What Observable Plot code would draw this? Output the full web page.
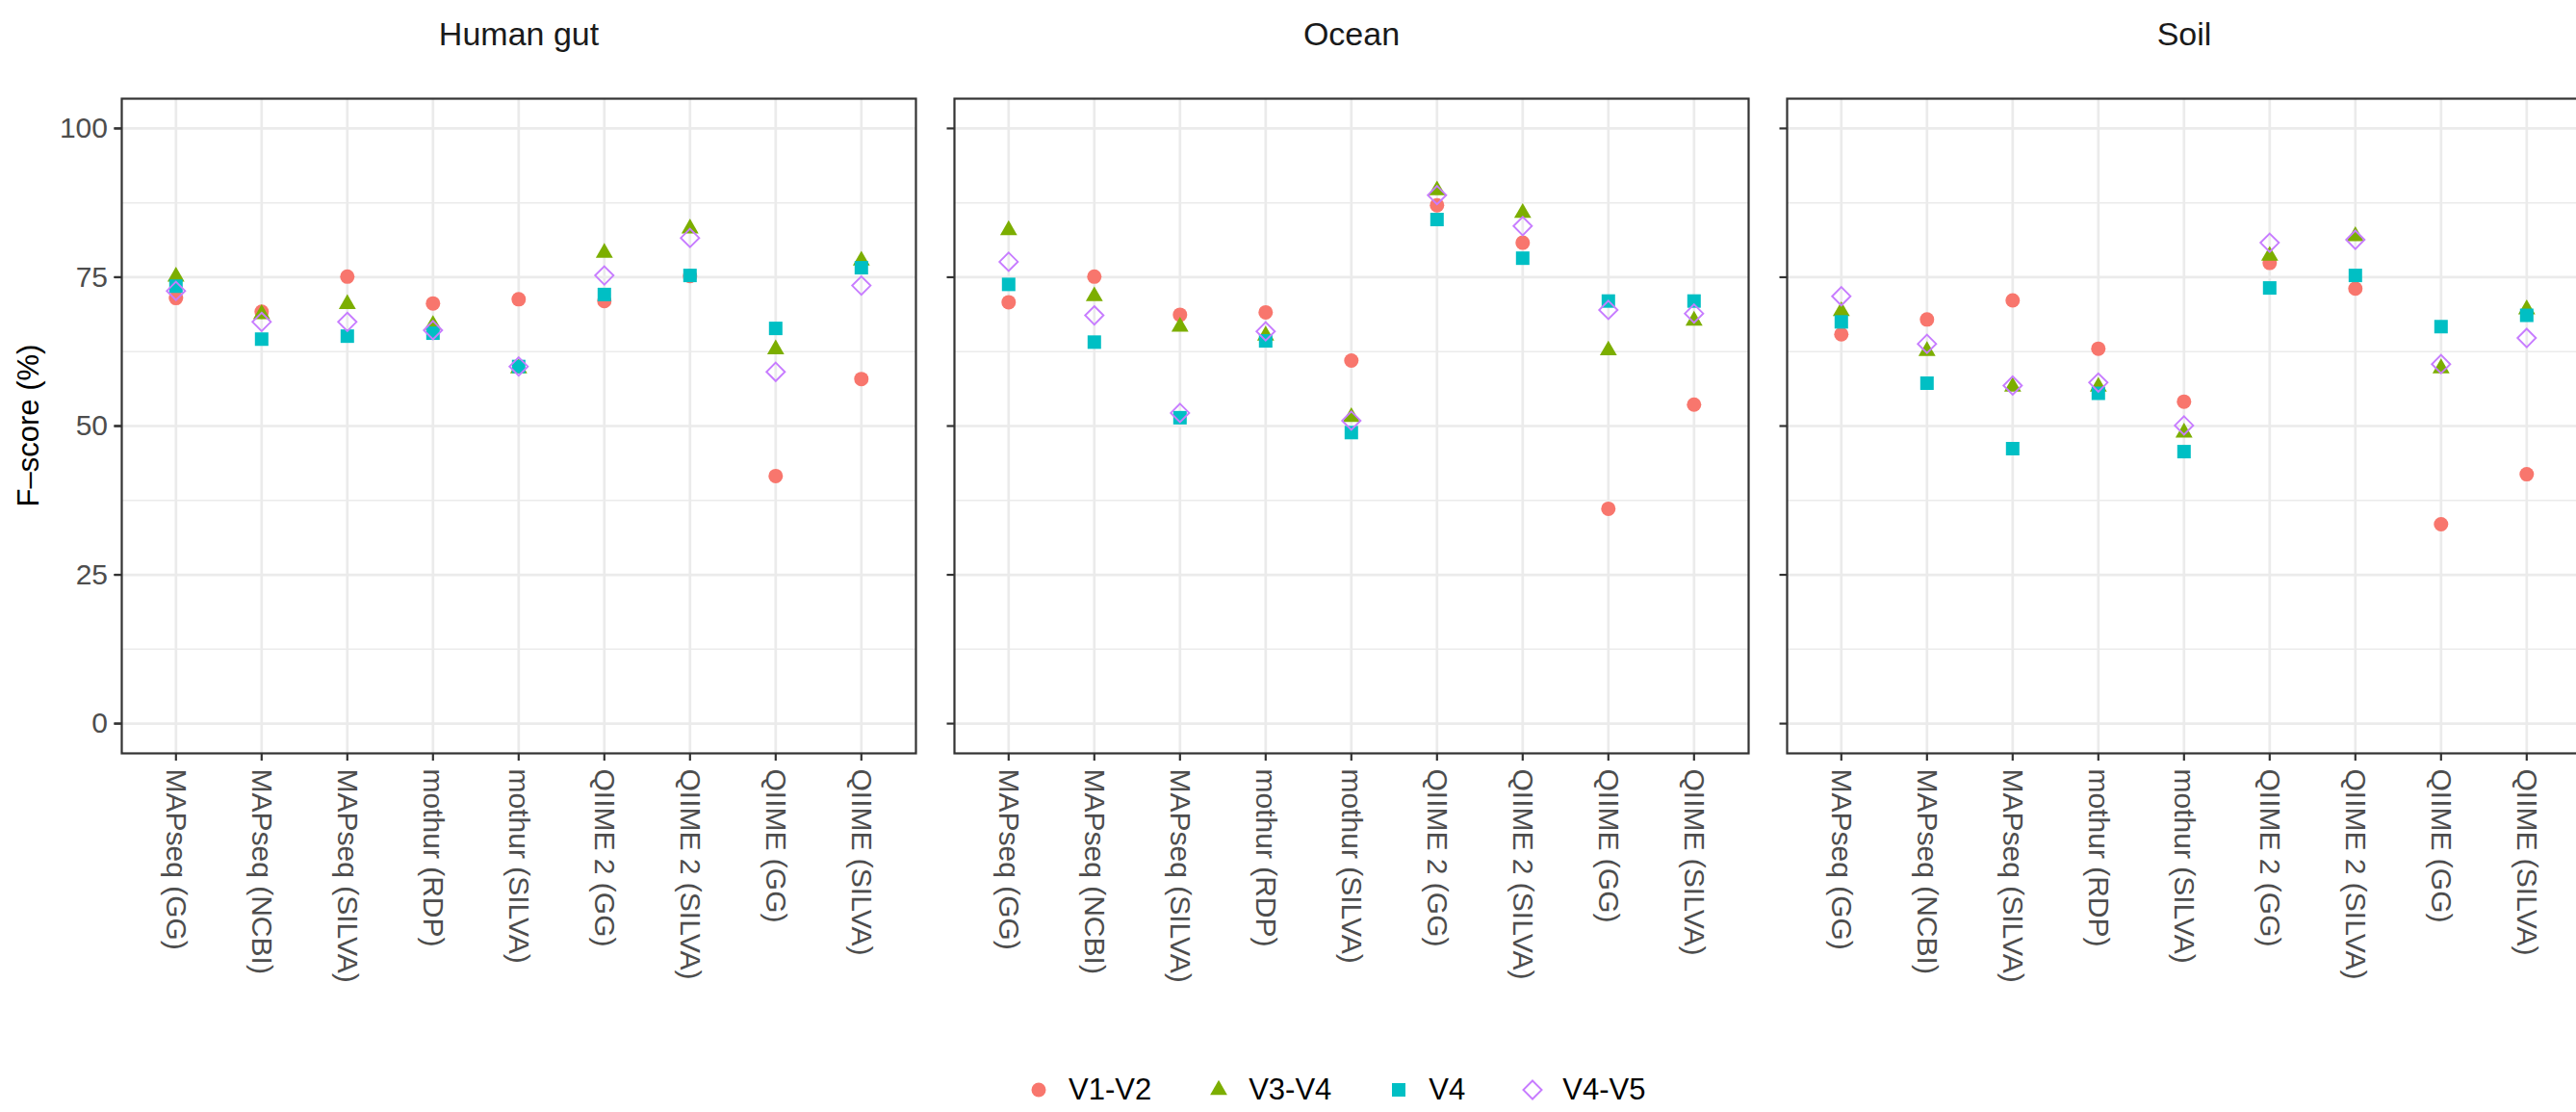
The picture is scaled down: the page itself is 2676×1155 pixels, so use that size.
<!DOCTYPE html>
<html>
<head>
<meta charset="utf-8">
<script src="https://cdn.jsdelivr.net/npm/d3@7"></script>
<script src="https://cdn.jsdelivr.net/npm/@observablehq/plot@0.6"></script>
<style>
html, body { margin: 0; padding: 0; background: #fff; overflow: hidden; width: 2676px; height: 1155px; }
#wrap { position: relative; width: 2676px; height: 1155px; font-family: "Liberation Sans", Arial, Helvetica, sans-serif; overflow: hidden; }
#chart svg { max-width: none !important; display: block; }
#legend { position: absolute; left: 1064px; top: 1132px; transform: translateY(-50%); display: flex; align-items: center; font-size: 31px; color: #000; white-space: nowrap; }
.item { display: flex; align-items: center; margin-right: 55px; }
.item:last-child { margin-right: 0; }
.item svg { margin-right: 16px; display: block; }
</style>
</head>
<body>
<div id="wrap"><div id="chart"></div><div id="legend"></div></div>
<script>
// ---- data ----
const environments = ["Human gut", "Ocean", "Soil"];
const methods = ["MAPseq (GG)", "MAPseq (NCBI)", "MAPseq (SILVA)", "mothur (RDP)", "mothur (SILVA)",
                 "QIIME 2 (GG)", "QIIME 2 (SILVA)", "QIIME (GG)", "QIIME (SILVA)"];
const series = ["V1-V2", "V3-V4", "V4", "V4-V5"];
const yTicks = [0, 25, 50, 75, 100];
const yMinor = [12.5, 37.5, 62.5, 87.5];
const yTitle = "F\u2013score (%)";

// F-score (%) per series, in the order of `methods`
const gutV1V2   = [71.5, 69.2, 75.1, 70.6, 71.3, 71.0, 75.2, 41.6, 57.9];
const gutV3V4   = [75.1, 68.8, 70.5, 67.0, 59.7, 79.1, 83.2, 62.9, 77.8];
const gutV4     = [73.5, 64.6, 65.1, 65.6, 60.0, 72.1, 75.3, 66.4, 76.6];
const gutV4V5   = [72.7, 67.5, 67.5, 66.1, 60.0, 75.3, 81.6, 59.1, 73.6];

const oceanV1V2 = [70.8, 75.1, 68.7, 69.1, 61.0, 87.1, 80.8, 36.1, 53.6];
const oceanV3V4 = [82.9, 71.8, 66.7, 65.2, 51.5, 89.6, 85.8, 62.7, 67.7];
const oceanV4   = [73.8, 64.1, 51.4, 64.3, 48.9, 84.7, 78.2, 71.0, 71.0];
const oceanV4V5 = [77.6, 68.6, 52.2, 65.9, 50.9, 88.8, 83.6, 69.5, 68.9];

const soilV1V2  = [65.4, 67.9, 71.1, 63.0, 54.1, 77.4, 73.1, 33.5, 41.9];
const soilV3V4  = [69.3, 62.6, 56.6, 56.6, 48.9, 78.6, 81.9, 59.7, 69.6];
const soilV4    = [67.5, 57.2, 46.2, 55.5, 45.7, 73.2, 75.3, 66.7, 68.6];
const soilV4V5  = [71.8, 63.8, 56.8, 57.3, 50.1, 80.8, 81.3, 60.4, 64.8];

const seriesColors  = ["#F8766D", "#7CAE00", "#00BFC4", "#C77CFF"];
const seriesSymbols = ["circle", "triangle", "square", "diamond2"];

// ---- build tidy table ----
const valueTable = {
  "Human gut": [gutV1V2, gutV3V4, gutV4, gutV4V5],
  "Ocean":     [oceanV1V2, oceanV3V4, oceanV4, oceanV4V5],
  "Soil":      [soilV1V2, soilV3V4, soilV4, soilV4V5]
};
const rows = [];
environments.forEach(env => {
  series.forEach((s, si) => {
    methods.forEach((m, mi) => {
      rows.push({env, method: m, series: s, value: valueTable[env][si][mi]});
    });
  });
});

// symbol sizes (Plot r; symbol area = pi r^2)
const symbolR = [7.5, 6.6, 7.9, 8.6];

const font = "Liberation Sans, Arial, Helvetica, sans-serif";
const W = 2692;

const dotMarks = series.map((s, i) => {
  const hollow = seriesSymbols[i] === "diamond2";
  return Plot.dot(rows.filter(d => d.series === s), {
    fx: "env", x: "method", y: "value",
    symbol: seriesSymbols[i],
    r: symbolR[i],
    fill: hollow ? "none" : seriesColors[i],
    stroke: hollow ? seriesColors[i] : "none",
    strokeWidth: hollow ? 1.9 : 0
  });
});

const chart = Plot.plot({
  width: W,
  height: 1090,
  marginTop: 102,
  marginBottom: 308,
  marginLeft: 124.7,
  marginRight: W - 2681.2,
  style: {fontFamily: font, background: "#ffffff", overflow: "visible"},
  fx: {domain: environments, paddingInner: 0.0466, paddingOuter: 0, label: null},
  x: {type: "point", domain: methods, padding: 0.6, label: null},
  y: {domain: [-5, 105], label: null},
  marks: [
    Plot.gridY(yMinor, {stroke: "#ebebeb", strokeOpacity: 1, strokeWidth: 1.4}),
    Plot.gridY(yTicks, {stroke: "#ebebeb", strokeOpacity: 1, strokeWidth: 2.7}),
    Plot.gridX(methods, {stroke: "#ebebeb", strokeOpacity: 1, strokeWidth: 2.7}),
    ...dotMarks,
    Plot.frame({stroke: "#333333", strokeWidth: 2.2}),
    Plot.axisY(yTicks, {facetAnchor: null, tickSize: 7.5, tickPadding: 7, tickFormat: () => "",
                        stroke: "#333333", strokeWidth: 2.2, label: null}),
    Plot.axisY(yTicks, {tickSize: 7.5, tickPadding: 7, fontSize: 30, fill: "#4d4d4d",
                        stroke: "#333333", strokeWidth: 2.2, label: null}),
    Plot.axisX(methods, {tickSize: 8, tickPadding: 8, tickRotate: 90, fontSize: 30, fill: "#4d4d4d",
                         stroke: "#333333", strokeWidth: 2.2, label: null}),
    Plot.axisFx({anchor: "top", tickSize: 0, tickPadding: 56, fontSize: 34,
                 fill: "#1a1a1a", label: null})
  ]
});

// y-axis title
d3.select(chart).append("text")
  .attr("transform", "translate(29,442) rotate(-90)")
  .attr("text-anchor", "middle")
  .attr("dy", "0.35em")
  .attr("font-family", font)
  .attr("font-size", 31)
  .attr("fill", "#000")
  .text(yTitle);

document.getElementById("chart").appendChild(chart);

// ---- legend ----
const legend = d3.select("#legend");
series.forEach((s, i) => {
  const item = legend.append("div").attr("class", "item");
  const svg = item.append("svg").attr("width", 30).attr("height", 30);
  const symType = {circle: d3.symbolCircle, triangle: d3.symbolTriangle, square: d3.symbolSquare, diamond2: d3.symbolDiamond2}[seriesSymbols[i]];
  const hollow = seriesSymbols[i] === "diamond2";
  svg.append("path")
    .attr("transform", "translate(15,15)")
    .attr("d", d3.symbol(symType, Math.PI * symbolR[i] * symbolR[i])())
    .attr("fill", hollow ? "none" : seriesColors[i])
    .attr("stroke", hollow ? seriesColors[i] : "none")
    .attr("stroke-width", hollow ? 1.9 : 0);
  item.append("span").text(s);
});
</script>
</body>
</html>
